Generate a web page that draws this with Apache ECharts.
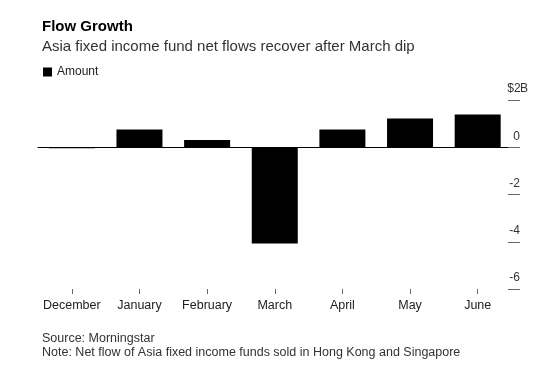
<!DOCTYPE html>
<html>
<head>
<meta charset="utf-8">
<script src="https://cdn.jsdelivr.net/npm/echarts@6/dist/echarts.min.js"></script>
<style>
  html, body { margin: 0; padding: 0; background: #fff; }
  #main { width: 557px; height: 375px; }
</style>
</head>
<body>
<div id="main"></div>
<script>
// months on the x axis
var months = ['December', 'January', 'February', 'March', 'April', 'May', 'June'];
// net flows, $B
var amount = [-0.04, 0.75, 0.31, -4.07, 0.75, 1.22, 1.39];
// y axis ticks
var yMin = -6;
var yMax = 2;
var yStep = 2;

var font = 'Liberation Sans, Arial, Helvetica, sans-serif';
var chart = echarts.init(document.getElementById('main'));

var option = {
    animation: false,
    backgroundColor: '#fff',
    textStyle: { fontFamily: font },
    // titles and footnotes
    title: [
        { text: 'Flow Growth', left: 37, top: 14, textStyle: { fontSize: 15, fontWeight: 'bold', color: '#000', fontFamily: font } },
        { text: 'Asia fixed income fund net flows recover after March dip', left: 37, top: 34, textStyle: { fontSize: 15, fontWeight: 'normal', color: '#333', fontFamily: font } },
        { text: 'Source: Morningstar', left: 37, top: 327, textStyle: { fontSize: 12.5, fontWeight: 'normal', color: '#333', fontFamily: font } },
        { text: 'Note: Net flow of Asia fixed income funds sold in Hong Kong and Singapore', left: 37, top: 341, textStyle: { fontSize: 12.5, fontWeight: 'normal', color: '#333', fontFamily: font } }
    ],
    legend: {
        left: 38,
        top: 61,
        icon: 'rect',
        itemWidth: 9,
        itemHeight: 9,
        itemGap: 5,
        textStyle: { fontSize: 12, color: '#222', fontFamily: font },
        data: ['Amount']
    },
    grid: { left: 38, right: 45.5, top: 100, bottom: 86 },
    xAxis: [
        {
            // zero line
            type: 'category',
            data: months,
            axisLine: { onZero: true, lineStyle: { color: '#000', width: 1 } },
            axisTick: { show: false },
            axisLabel: { show: false }
        },
        {
            // bottom ticks and labels
            type: 'category',
            data: months,
            position: 'bottom',
            axisLine: { show: false, onZero: false },
            axisTick: { show: true, alignWithLabel: true, interval: 0, length: 5, lineStyle: { color: '#666' } },
            axisLabel: { interval: 0, margin: 10, fontSize: 12.5, color: '#222', fontFamily: font }
        }
    ],
    yAxis: {
        type: 'value',
        position: 'right',
        offset: -3.5,
        min: yMin,
        max: yMax,
        interval: yStep,
        splitLine: { show: false },
        axisLine: { show: false },
        axisTick: { show: true, length: 12, lineStyle: { color: '#666' } },
        axisLabel: {
            margin: 0,
            align: 'left',
            verticalAlign: 'bottom',
            padding: [0, 0, 5, 0],
            color: '#333',
            fontSize: 12,
            fontFamily: font,
            formatter: function (v) {
                if (v === yMax) return '{r|$' + v + '}B';
                return '{r|' + v + '}';
            },
            rich: {
                r: { width: 12, align: 'right', fontSize: 12, color: '#333', fontFamily: font }
            }
        }
    },
    series: [
        {
            name: 'Amount',
            type: 'bar',
            xAxisIndex: 0,
            data: amount,
            barWidth: 46,
            itemStyle: { color: '#000' }
        }
    ]
};

chart.setOption(option);
</script>
</body>
</html>
